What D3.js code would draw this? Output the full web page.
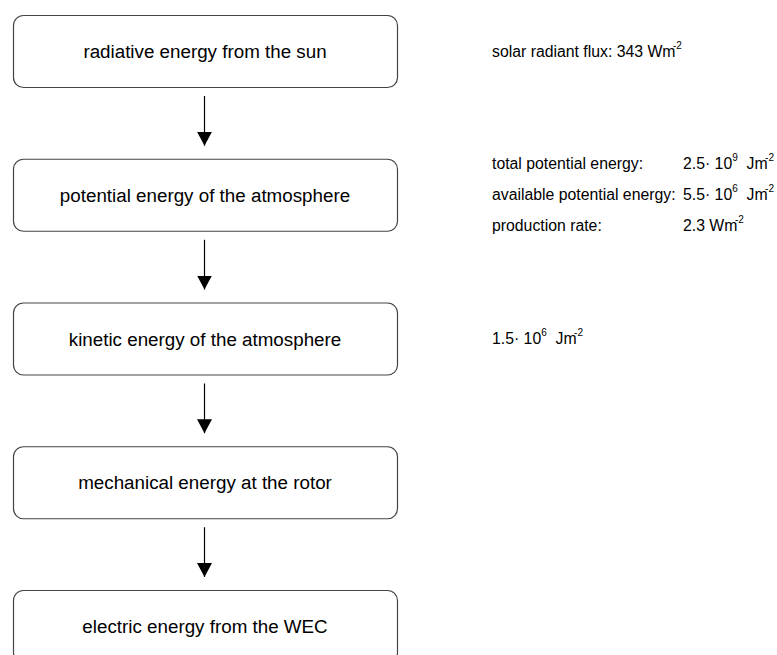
<!DOCTYPE html>
<html>
<head>
<meta charset="utf-8">
<script src="https://cdn.jsdelivr.net/npm/d3@7"></script>
<style>
  body { margin: 0; background: #fff; }
  text { font-family: Arial, "Liberation Sans", sans-serif; fill: #000; }
</style>
</head>
<body>
<div id="chart"></div>
<script>
// stages of the energy chain (top to bottom)
var stages = [
  "radiative energy from the sun",
  "potential energy of the atmosphere",
  "kinetic energy of the atmosphere",
  "mechanical energy at the rotor",
  "electric energy from the WEC"
];

// notes next to the boxes: stage index, label, value ("^" marks a superscript)
var noteStage = [0, 1, 1, 1, 2];
var noteLabels = ["solar radiant flux: 343 Wm^-2", "total potential energy:", "available potential energy:", "production rate:", "1.5\u00b7 10^6  Jm^-2"];
var noteValues = ["", "2.5\u00b7 10^9  Jm^-2", "5.5\u00b7 10^6  Jm^-2", "2.3 Wm^-2", ""];
var noteRow = [0, -1, 0, 1, 0];

var width = 777, height = 655;

var svg = d3.select("#chart")
  .append("svg")
  .attr("width", width)
  .attr("height", height);

var boxX = 13, boxW = 384, boxH = 72;

// vertical position of each stage box
var y = d3.scaleLinear()
  .domain([0, 1])
  .range([15, 158.75]);

var defs = svg.append("defs");
defs.append("marker")
  .attr("id", "head")
  .attr("viewBox", "0 0 14 15")
  .attr("refX", 14)
  .attr("refY", 7.5)
  .attr("markerUnits", "userSpaceOnUse")
  .attr("markerWidth", 14)
  .attr("markerHeight", 15)
  .attr("orient", "auto")
  .append("path")
  .attr("d", "M0,0 L14,7.5 L0,15 Z")
  .attr("fill", "#000");

// boxes
var box = svg.append("g")
  .selectAll("g")
  .data(stages)
  .enter()
  .append("g")
  .attr("transform", function (d, i) {
    return "translate(" + boxX + "," + y(i) + ")";
  });

box.append("rect")
  .attr("x", 0.5)
  .attr("y", 0.5)
  .attr("width", boxW)
  .attr("height", boxH)
  .attr("rx", 10)
  .attr("ry", 10)
  .attr("fill", "#fff")
  .attr("stroke", "#444")
  .attr("stroke-width", 1.2);

box.append("text")
  .attr("x", boxW / 2)
  .attr("y", boxH / 2 + 7)
  .attr("text-anchor", "middle")
  .style("font-size", "18.8px")
  .text(function (d) { return d; });

// arrows between boxes
svg.append("g")
  .selectAll("line")
  .data(stages.slice(1))
  .enter()
  .append("line")
  .attr("x1", 204.5)
  .attr("x2", 204.5)
  .attr("y1", function (d, i) { return y(i) + boxH + 9; })
  .attr("y2", function (d, i) { return y(i + 1) - 13; })
  .attr("stroke", "#000")
  .attr("stroke-width", 1.2)
  .attr("marker-end", "url(#head)");

// write a string with ^superscripts into a text element
function richText(sel, str) {
  var parts = str.split(/\^(-?\d+)/);
  var lift = 0;
  parts.forEach(function (p, k) {
    if (k % 2 === 1) {
      sel.append("tspan")
        .attr("dy", -8)
        .attr("dx", p.charAt(0) == "-" ? -2.5 : 0)
        .style("font-size", "10px")
        .text(p);
      lift = 8;
    } else if (p !== "") {
      sel.append("tspan")
        .attr("dy", lift)
        .text(p);
      lift = 0;
    }
  });
}

var notes = svg.append("g")
  .selectAll("g")
  .data(noteLabels)
  .enter()
  .append("g")
  .attr("transform", function (d, i) {
    return "translate(0," + (y(noteStage[i]) + boxH / 2 + 5.5 + noteRow[i] * 31) + ")";
  });

notes.append("text")
  .attr("x", 492)
  .style("font-size", "15.8px")
  .style("white-space", "pre")
  .each(function (d) { richText(d3.select(this), d); });

notes.append("text")
  .attr("x", 683)
  .style("font-size", "15.8px")
  .style("white-space", "pre")
  .each(function (d, i) { richText(d3.select(this), noteValues[i]); });
</script>
</body>
</html>
